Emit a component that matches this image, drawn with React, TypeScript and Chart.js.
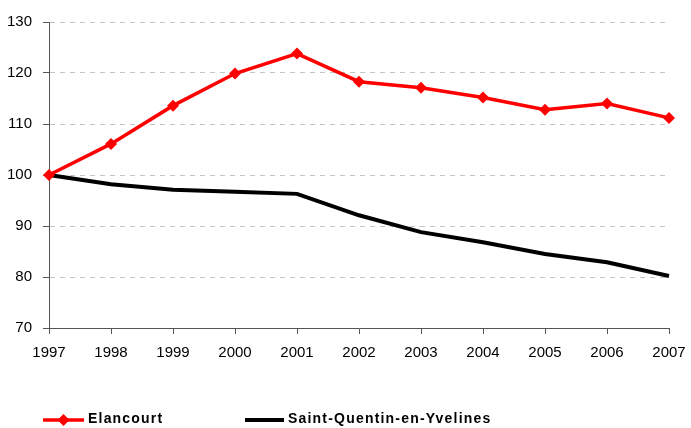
import React, { useEffect, useRef } from "react";
import { Chart, registerables } from "chart.js";

Chart.register(...registerables);

const years = ["1997", "1998", "1999", "2000", "2001", "2002", "2003", "2004", "2005", "2006", "2007"];
const elancourt = [100, 106.1, 113.6, 119.9, 123.8, 118.3, 117.1, 115.2, 112.8, 114.0, 111.2];
const saintQuentin = [100, 98.2, 97.1, 96.7, 96.3, 92.1, 88.8, 86.8, 84.5, 82.9, 80.2];
const seriesLabels = ["Elancourt", "Saint-Quentin-en-Yvelines"];
const yMin = 70;
const yMax = 130;
const yStep = 10;

const legendPlugin = {
  id: "bottomLegend",
  afterDraw(chart: any) {
    const ctx = chart.ctx;
    const y = 420;
    const items = [
      { x0: 43, x1: 84, tx: 88, ds: chart.data.datasets[0] },
      { x0: 245, x1: 284, tx: 288, ds: chart.data.datasets[1] },
    ];
    ctx.save();
    items.forEach((it) => {
      ctx.strokeStyle = it.ds.borderColor;
      ctx.lineWidth = it.ds.borderWidth;
      ctx.setLineDash([]);
      ctx.beginPath();
      ctx.moveTo(it.x0, y);
      ctx.lineTo(it.x1, y);
      ctx.stroke();
      if (it.ds.pointRadius > 0) {
        const cx = (it.x0 + it.x1) / 2;
        const r = it.ds.pointRadius;
        ctx.fillStyle = it.ds.pointBackgroundColor;
        ctx.beginPath();
        ctx.moveTo(cx, y - r);
        ctx.lineTo(cx + r, y);
        ctx.lineTo(cx, y + r);
        ctx.lineTo(cx - r, y);
        ctx.closePath();
        ctx.fill();
      }
      ctx.fillStyle = "#000";
      ctx.font = "bold 14px 'Liberation Sans', Arial, sans-serif";
      (ctx as any).letterSpacing = "1.2px";
      ctx.textBaseline = "middle";
      ctx.textAlign = "left";
      ctx.fillText(it.ds.label, it.tx, y - 1);
    });
    ctx.restore();
  },
};

export default function App() {
  const ref = useRef<HTMLCanvasElement>(null);
  useEffect(() => {
    document.body.style.margin = "0";
    const chart = new Chart(ref.current!, {
      type: "line",
      data: {
        labels: years,
        datasets: [
          {
            label: seriesLabels[0],
            data: elancourt,
            borderColor: "#ff0000",
            backgroundColor: "#ff0000",
            pointBackgroundColor: "#ff0000",
            pointBorderColor: "#ff0000",
            borderWidth: 3.5,
            pointStyle: "rectRot",
            pointRadius: 6,
            pointBorderWidth: 0,
            tension: 0,
          },
          {
            label: seriesLabels[1],
            data: saintQuentin,
            borderColor: "#000000",
            backgroundColor: "#000000",
            borderWidth: 4,
            pointRadius: 0,
            tension: 0,
          },
        ],
      },
      plugins: [legendPlugin],
      options: {
        animation: false,
        responsive: false,
        devicePixelRatio: 1,
        layout: { padding: { top: 22, right: 22, left: 0, bottom: 0 } },
        plugins: { legend: { display: false }, tooltip: { enabled: false } },
        scales: {
          x: {
            offset: false,
            grid: { drawOnChartArea: false, tickColor: "#555", tickLength: 6 },
            border: { color: "#555", width: 1 },
            ticks: {
              color: "#000",
              font: { family: "'Liberation Sans', Arial, sans-serif", size: 15 },
              padding: 10,
              maxRotation: 0,
              autoSkip: false,
            },
            afterFit(scale: any) {
              scale.height = 100;
              scale.paddingRight = 0;
              scale.paddingLeft = 0;
            },
          },
          y: {
            min: yMin,
            max: yMax,
            grid: {
              color: "#c4c4c4",
              tickColor: "#555",
              tickLength: 6,
              tickBorderDash: [],
            } as any,
            border: { color: "#555", width: 1, dash: [5, 5] } as any,
            ticks: {
              stepSize: yStep,
              color: "#000",
              font: { family: "'Liberation Sans', Arial, sans-serif", size: 15 },
              padding: 11,
            },
            afterFit(scale: any) {
              scale.width = 49;
              scale.paddingTop = 0;
              scale.paddingBottom = 0;
            },
          },
        },
      },
    } as any);
    return () => chart.destroy();
  }, []);
  return <canvas ref={ref} width={691} height={428} style={{ display: "block" }} />;
}
